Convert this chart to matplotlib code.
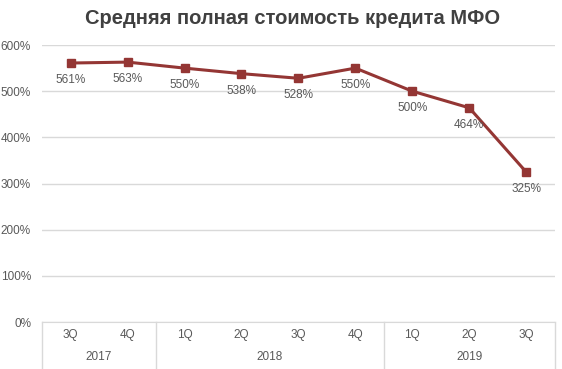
import numpy as np
import matplotlib.pyplot as plt

quarters = ['3Q', '4Q', '1Q', '2Q', '3Q', '4Q', '1Q', '2Q', '3Q']
years = ['2017', '2018', '2019']
year_sizes = [2, 4, 3]
values = [561, 563, 550, 538, 528, 550, 500, 464, 325]

line_color = '#943634'
text_color = '#595959'
plt.rcParams['font.family'] = ['Liberation Sans Narrow', 'Liberation Sans', 'DejaVu Sans']

fig = plt.figure(figsize=(5.62, 3.69), dpi=100)
ax = fig.add_axes([0.075, 0.127, 0.912, 0.751])

x = np.arange(len(values))
ax.plot(x, values, color=line_color, lw=2.2, marker='s', ms=6, zorder=3)
for xi, v in zip(x, values):
    ax.annotate(f'{v}%', (xi, v), xytext=(0, -8), textcoords='offset points',
                ha='center', va='top', fontsize=8.5, color=text_color)

ax.set_xlim(-0.5, len(values) - 0.5)
ax.set_ylim(0, 600)
ax.set_yticks(range(0, 601, 100))
ax.set_yticklabels([f'{t}%' for t in range(0, 601, 100)])
ax.yaxis.grid(True, color='#d9d9d9', lw=1)
ax.set_axisbelow(True)
ax.tick_params(axis='y', length=0, labelsize=8.5, labelcolor=text_color, pad=8)
ax.set_xticks([])
for s in ['top', 'right', 'left']:
    ax.spines[s].set_visible(False)
ax.spines['bottom'].set_color('#d9d9d9')

# two-level category axis
sep_kw = dict(color='#d9d9d9', lw=1, transform=ax.get_xaxis_transform(), clip_on=False)
for xi, q in zip(x, quarters):
    ax.text(xi, -0.025, q, transform=ax.get_xaxis_transform(), ha='center', va='top',
            fontsize=8.5, color=text_color)
start = 0
bounds = [-0.5]
for yr, n in zip(years, year_sizes):
    mid = start + (n - 1) / 2
    ax.text(mid, -0.105, yr, transform=ax.get_xaxis_transform(), ha='center', va='top',
            fontsize=8.5, color=text_color)
    start += n
    bounds.append(start - 0.5)
for b in bounds:
    ax.plot([b, b], [0, -0.17], **sep_kw)

fig.text(0.52, 0.95, 'Средняя полная стоимость кредита МФО', ha='center', va='center',
         fontsize=14.5, fontweight='bold', color='#404040')

fig.savefig('out.png', dpi=100)
